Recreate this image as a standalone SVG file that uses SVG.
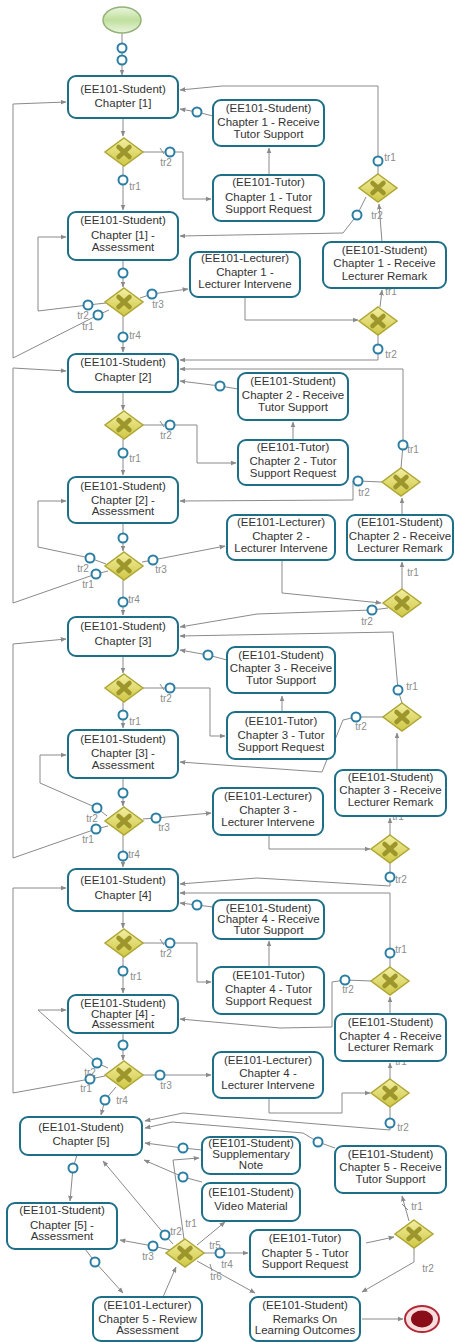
<svg xmlns="http://www.w3.org/2000/svg" width="455" height="1342" viewBox="0 0 455 1342">
<defs>
<marker id="ah" viewBox="0 0 10 10" refX="9" refY="5" markerWidth="6" markerHeight="6" orient="auto" markerUnits="userSpaceOnUse"><path d="M0,1 L10,5 L0,9 z" fill="#8a8a8a"/></marker>
<linearGradient id="gg" x1="0" y1="0" x2="0" y2="1"><stop offset="0" stop-color="#f3efa2"/><stop offset="1" stop-color="#cfc742"/></linearGradient>
<linearGradient id="sg" x1="0" y1="0" x2="0" y2="1"><stop offset="0" stop-color="#eaf5de"/><stop offset="0.5" stop-color="#c0df9c"/><stop offset="1" stop-color="#eaf5de"/></linearGradient>
<g id="gw"><polygon points="0,-14 19,0 0,14 -19,0" fill="url(#gg)" stroke="#aea735" stroke-width="1.5"/><path d="M-5.5,-5 L5.5,5 M5.5,-5 L-5.5,5" stroke="#9c962c" stroke-width="4.5" stroke-linecap="round"/></g>
</defs>
<style>
.box{fill:#fff;stroke:#1d6f88;stroke-width:2}
.t{font-family:"Liberation Sans",Arial,sans-serif;font-size:11.5px;fill:#333;text-anchor:middle}
.e{fill:none;stroke:#8a8a8a;stroke-width:1}
.a{marker-end:url(#ah)}
.m{fill:#fff;stroke:#2a7ea3;stroke-width:2}
.l{font-family:"Liberation Sans",Arial,sans-serif;font-size:10px;fill:#8c8c8c;text-anchor:middle}
</style>
<rect width="455" height="1342" fill="#fff"/>
<g id="connectors">
<path class="e a" d="M122,33 L122,75"/>
<!-- ch1 -->
<path class="e a" d="M123,118 V136"/>
<path class="e a" d="M143,152 H183 V199 H211"/>
<path class="e" d="M160,148 L164,154"/>
<path class="e a" d="M269,175 V148"/>
<path class="e a" d="M213,116 L197,112 L180,109"/>
<path class="e a" d="M123,166 V210"/>
<path class="e a" d="M378,174 V86 H222 L180,90"/>
<path class="e a" d="M366,197 L357,215 L343,233 L180,236"/>
<path class="e a" d="M382,242 L379,204"/>
<path class="e a" d="M123,260 V287"/>
<path class="e a" d="M140,298 L152,294 L188,289"/>
<path class="e a" d="M106,303 L88,305 L38,311 V237 H66"/>
<path class="e a" d="M109,310 L98,315 L13,358 V104 L66,102"/>
<path class="e a" d="M123,316 V352"/>
<path class="e a" d="M245,297 V320 H358"/>
<path class="e a" d="M380,307 L382,290"/>
<path class="e a" d="M378,335 V360 H180"/>
<path class="e a" d="M401,468 L403,445 V369 H180"/>
<!-- ch2 -->
<path class="e a" d="M123,392 V410"/>
<path class="e a" d="M238,389 L220,386 L180,381"/>
<path class="e a" d="M143,425 H197 V463 H236"/>
<path class="e" d="M160,421 L164,427"/>
<path class="e a" d="M293,440 V422"/>
<path class="e a" d="M123,439 V475"/>
<path class="e a" d="M382,482 L358,481 L353,481 V500 L180,501"/>
<path class="e a" d="M402,515 V498"/>
<path class="e a" d="M123,523 V551"/>
<path class="e a" d="M142,562 L153,560 L225,546"/>
<path class="e a" d="M106,564 L90,558 L38,547 V501 H66"/>
<path class="e a" d="M108,571 L96,574 L13,603 V368 L66,371"/>
<path class="e a" d="M123,580 V615"/>
<path class="e a" d="M282,560 V593 L381,603"/>
<path class="e a" d="M402,589 V562"/>
<path class="e a" d="M388,608 L372,610 L257,614 L180,627"/>
<path class="e a" d="M402,703 L398,690 L393,632 L180,636"/>
<!-- ch3 -->
<path class="e a" d="M123,656 V673"/>
<path class="e a" d="M227,660 L208,655 L180,650"/>
<path class="e a" d="M143,688 H210 V736 H225"/>
<path class="e" d="M160,684 L164,690"/>
<path class="e a" d="M282,712 V696"/>
<path class="e a" d="M123,702 V728"/>
<path class="e a" d="M383,717 L356,717 L343,720 L322,772 L180,762"/>
<path class="e a" d="M397,770 V733"/>
<path class="e a" d="M123,778 V806"/>
<path class="e a" d="M143,819 L156,818 L211,813"/>
<path class="e a" d="M107,816 L97,808 L40,783 V755 H66"/>
<path class="e a" d="M108,826 L96,829 L13,858 V644 L66,639"/>
<path class="e a" d="M123,835 V867"/>
<path class="e a" d="M269,835 V849 H370"/>
<path class="e a" d="M390,835 V818"/>
<path class="e a" d="M390,863 V886 L257,878 L180,884"/>
<path class="e a" d="M390,967 V893 H180"/>
<!-- ch4 -->
<path class="e a" d="M123,911 V928"/>
<path class="e a" d="M213,907 L197,905 L180,903"/>
<path class="e a" d="M143,943 H197 V982 H211"/>
<path class="e" d="M160,939 L164,945"/>
<path class="e a" d="M269,967 V941"/>
<path class="e a" d="M123,957 V993"/>
<path class="e a" d="M371,981 L345,980 L332,982 V1027 L280,1028 L180,1019"/>
<path class="e a" d="M390,1014 V997"/>
<path class="e a" d="M123,1033 V1060"/>
<path class="e a" d="M143,1075 H211"/>
<path class="e a" d="M108,1068 L97,1063 L38,1010 H66"/>
<path class="e a" d="M105,1076 L90,1079 L13,1093 V888 H66"/>
<path class="e a" d="M116,1087 L105,1100 L101,1115"/>
<path class="e a" d="M269,1098 V1113 H342 V1093 H370"/>
<path class="e a" d="M390,1079 V1063"/>
<path class="e a" d="M390,1107 V1130 L183,1113 L145,1121"/>
<!-- ch5 -->
<path class="e a" d="M335,1148 L318,1142 L303,1133 L172,1122 L145,1128"/>
<path class="e a" d="M202,1150 L183,1148 L145,1143"/>
<path class="e a" d="M202,1182 L183,1177 L144,1160"/>
<path class="e a" d="M77,1155 L73,1168 L70,1201"/>
<path class="e a" d="M170,1250 L153,1246 L120,1240"/>
<path class="e a" d="M173,1244 L165,1235 L103,1161"/>
<path class="e a" d="M184,1239 L173,1160 L199,1158"/>
<path class="e a" d="M197,1245 L225,1222"/>
<path class="e a" d="M204,1253 H248"/>
<path class="e a" d="M197,1261 L255,1293"/>
<path class="e" d="M210,1264 L212,1271"/>
<path class="e a" d="M163,1297 L176,1267"/>
<path class="e a" d="M85,1249 L95,1262 L123,1293"/>
<path class="e a" d="M366,1243 L394,1237"/>
<path class="e a" d="M409,1221 L402,1196"/>
<path class="e" d="M402,1204 L408,1210"/>
<path class="e a" d="M414,1248 V1262 L362,1292"/>
<path class="e a" d="M362,1319 H403"/>
<!-- flow markers -->
<circle class="m" cx="122" cy="48" r="4.5"/><circle class="m" cx="122" cy="60" r="4.5"/>
<circle class="m" cx="170" cy="152" r="4.5"/><circle class="m" cx="197" cy="112" r="4.5"/>
<circle class="m" cx="123" cy="180" r="4.5"/><circle class="m" cx="378" cy="161" r="4.5"/>
<circle class="m" cx="357" cy="215" r="4.5"/><circle class="m" cx="123" cy="273" r="4.5"/>
<circle class="m" cx="152" cy="294" r="4.5"/><circle class="m" cx="88" cy="305" r="4.5"/>
<circle class="m" cx="98" cy="315" r="4.5"/><circle class="m" cx="123" cy="337" r="4.5"/>
<circle class="m" cx="378" cy="349" r="4.5"/><circle class="m" cx="403" cy="445" r="4.5"/>
<circle class="m" cx="220" cy="386" r="4.5"/><circle class="m" cx="170" cy="425" r="4.5"/>
<circle class="m" cx="123" cy="453" r="4.5"/><circle class="m" cx="358" cy="481" r="4.5"/>
<circle class="m" cx="123" cy="538" r="4.5"/><circle class="m" cx="153" cy="560" r="4.5"/>
<circle class="m" cx="90" cy="558" r="4.5"/><circle class="m" cx="96" cy="574" r="4.5"/>
<circle class="m" cx="123" cy="602" r="4.5"/><circle class="m" cx="372" cy="610" r="4.5"/>
<circle class="m" cx="398" cy="690" r="4.5"/>
<circle class="m" cx="208" cy="655" r="4.5"/><circle class="m" cx="170" cy="688" r="4.5"/>
<circle class="m" cx="123" cy="715" r="4.5"/><circle class="m" cx="356" cy="717" r="4.5"/>
<circle class="m" cx="123" cy="793" r="4.5"/><circle class="m" cx="156" cy="818" r="4.5"/>
<circle class="m" cx="97" cy="808" r="4.5"/><circle class="m" cx="96" cy="829" r="4.5"/>
<circle class="m" cx="123" cy="856" r="4.5"/><circle class="m" cx="390" cy="877" r="4.5"/>
<circle class="m" cx="390" cy="953" r="4.5"/>
<circle class="m" cx="197" cy="905" r="4.5"/><circle class="m" cx="170" cy="943" r="4.5"/>
<circle class="m" cx="123" cy="971" r="4.5"/><circle class="m" cx="345" cy="980" r="4.5"/>
<circle class="m" cx="123" cy="1045" r="4.5"/><circle class="m" cx="160" cy="1075" r="4.5"/>
<circle class="m" cx="97" cy="1063" r="4.5"/><circle class="m" cx="90" cy="1079" r="4.5"/>
<circle class="m" cx="105" cy="1100" r="4.5"/><circle class="m" cx="390" cy="1123" r="4.5"/>
<circle class="m" cx="318" cy="1142" r="4.5"/><circle class="m" cx="183" cy="1148" r="4.5"/>
<circle class="m" cx="183" cy="1177" r="4.5"/><circle class="m" cx="73" cy="1168" r="4.5"/>
<circle class="m" cx="153" cy="1246" r="4.5"/><circle class="m" cx="165" cy="1235" r="4.5"/>
<circle class="m" cx="220" cy="1253" r="4.5"/><circle class="m" cx="95" cy="1262" r="4.5"/>
<!-- labels -->
<text class="l" x="166" y="166">tr2</text><text class="l" x="135" y="190">tr1</text>
<text class="l" x="390" y="161">tr1</text><text class="l" x="377" y="219">tr2</text>
<text class="l" x="158" y="308">tr3</text><text class="l" x="83" y="319">tr2</text>
<text class="l" x="88" y="330">tr1</text><text class="l" x="135" y="339">tr4</text>
<text class="l" x="391" y="295">tr1</text><text class="l" x="391" y="358">tr2</text>
<text class="l" x="166" y="439">tr2</text><text class="l" x="135" y="462">tr1</text>
<text class="l" x="413" y="453">tr1</text><text class="l" x="364" y="496">tr2</text>
<text class="l" x="161" y="573">tr3</text><text class="l" x="83" y="572">tr2</text>
<text class="l" x="88" y="588">tr1</text><text class="l" x="134" y="603">tr4</text>
<text class="l" x="413" y="576">tr1</text><text class="l" x="367" y="625">tr2</text>
<text class="l" x="166" y="702">tr2</text><text class="l" x="135" y="725">tr1</text>
<text class="l" x="412" y="690">tr1</text><text class="l" x="361" y="730">tr2</text>
<text class="l" x="164" y="831">tr3</text><text class="l" x="92" y="822">tr2</text>
<text class="l" x="88" y="843">tr1</text><text class="l" x="134" y="858">tr4</text>
<text class="l" x="398" y="820">tr1</text><text class="l" x="401" y="883">tr2</text>
<text class="l" x="166" y="957">tr2</text><text class="l" x="136" y="980">tr1</text>
<text class="l" x="401" y="953">tr1</text><text class="l" x="348" y="993">tr2</text>
<text class="l" x="166" y="1089">tr3</text><text class="l" x="90" y="1076">tr2</text>
<text class="l" x="86" y="1092">tr1</text><text class="l" x="122" y="1104">tr4</text>
<text class="l" x="401" y="1065">tr1</text><text class="l" x="403" y="1131">tr2</text>
<text class="l" x="191" y="1227">tr1</text><text class="l" x="176" y="1235">tr2</text>
<text class="l" x="148" y="1260">tr3</text><text class="l" x="215" y="1249">tr5</text>
<text class="l" x="227" y="1268">tr4</text><text class="l" x="216" y="1280">tr6</text>
<text class="l" x="417" y="1210">tr1</text><text class="l" x="428" y="1272">tr2</text>
</g>
<g id="start"><ellipse cx="122" cy="20" rx="19" ry="13" fill="url(#sg)" stroke="#93b27a" stroke-width="1.5"/></g>
<g id="end"><ellipse cx="422" cy="1319" rx="17" ry="13" fill="#f7dede" stroke="#b22a3a" stroke-width="2"/><ellipse cx="422" cy="1319" rx="11" ry="8.5" fill="#8a0e1a"/></g>
<g id="gw1"><use href="#gw" x="124" y="152"/></g>
<g id="gw1a"><use href="#gw" x="124" y="302"/></g>
<g id="gw1r"><use href="#gw" x="378" y="188"/></g>
<g id="gw1l"><use href="#gw" x="378" y="321"/></g>
<g id="gw2"><use href="#gw" x="124" y="425"/></g>
<g id="gw2a"><use href="#gw" x="124" y="566"/></g>
<g id="gw2r"><use href="#gw" x="401" y="482"/></g>
<g id="gw2l"><use href="#gw" x="402" y="603"/></g>
<g id="gw3"><use href="#gw" x="124" y="688"/></g>
<g id="gw3a"><use href="#gw" x="124" y="821"/></g>
<g id="gw3r"><use href="#gw" x="402" y="717"/></g>
<g id="gw3l"><use href="#gw" x="390" y="849"/></g>
<g id="gw4"><use href="#gw" x="124" y="943"/></g>
<g id="gw4a"><use href="#gw" x="124" y="1075"/></g>
<g id="gw4r"><use href="#gw" x="390" y="981"/></g>
<g id="gw4l"><use href="#gw" x="390" y="1093"/></g>
<g id="gw5"><use href="#gw" x="185" y="1253"/></g>
<g id="gw5r"><use href="#gw" x="414" y="1234"/></g>
<g id="ch1"><rect class="box" x="68" y="76" width="110" height="42" rx="8"/><text class="t" x="123" y="93">(EE101-Student)</text><text class="t" x="123" y="107">Chapter [1]</text></g>
<g id="ch1_rts"><rect class="box" x="213" y="100" width="111" height="46" rx="8"/><text class="t" x="268.5" y="112">(EE101-Student)</text><text class="t" x="268.5" y="126">Chapter 1 - Receive</text><text class="t" x="268.5" y="138">Tutor Support</text></g>
<g id="ch1_tsr"><rect class="box" x="213" y="175" width="111" height="46" rx="8"/><text class="t" x="268.5" y="186">(EE101-Tutor)</text><text class="t" x="268.5" y="201">Chapter 1 - Tutor</text><text class="t" x="268.5" y="213">Support Request</text></g>
<g id="ch1_ass"><rect class="box" x="68" y="212" width="110" height="48" rx="8"/><text class="t" x="123" y="224">(EE101-Student)</text><text class="t" x="123" y="239">Chapter [1] -</text><text class="t" x="123" y="251">Assessment</text></g>
<g id="ch1_lrr"><rect class="box" x="323" y="242" width="123" height="46" rx="8"/><text class="t" x="384.5" y="254">(EE101-Student)</text><text class="t" x="384.5" y="267">Chapter 1 - Receive</text><text class="t" x="384.5" y="280">Lecturer Remark</text></g>
<g id="ch1_li"><rect class="box" x="190" y="252" width="110" height="45" rx="8"/><text class="t" x="245" y="262">(EE101-Lecturer)</text><text class="t" x="245" y="276">Chapter 1 -</text><text class="t" x="245" y="288">Lecturer Intervene</text></g>
<g id="ch2"><rect class="box" x="68" y="354" width="110" height="38" rx="8"/><text class="t" x="123" y="366">(EE101-Student)</text><text class="t" x="123" y="381">Chapter [2]</text></g>
<g id="ch2_rts"><rect class="box" x="238" y="373" width="110" height="47" rx="8"/><text class="t" x="293" y="385">(EE101-Student)</text><text class="t" x="293" y="399">Chapter 2 - Receive</text><text class="t" x="293" y="411">Tutor Support</text></g>
<g id="ch2_tsr"><rect class="box" x="238" y="440" width="110" height="45" rx="8"/><text class="t" x="293" y="451">(EE101-Tutor)</text><text class="t" x="293" y="465">Chapter 2 - Tutor</text><text class="t" x="293" y="477">Support Request</text></g>
<g id="ch2_ass"><rect class="box" x="68" y="477" width="110" height="46" rx="8"/><text class="t" x="123" y="490">(EE101-Student)</text><text class="t" x="123" y="504">Chapter [2] -</text><text class="t" x="123" y="515">Assessment</text></g>
<g id="ch2_li"><rect class="box" x="227" y="515" width="108" height="45" rx="8"/><text class="t" x="281" y="526">(EE101-Lecturer)</text><text class="t" x="281" y="540">Chapter 2 -</text><text class="t" x="281" y="552">Lecturer Intervene</text></g>
<g id="ch2_lrr"><rect class="box" x="347" y="515" width="106" height="45" rx="8"/><text class="t" x="400" y="526">(EE101-Student)</text><text class="t" x="400" y="540">Chapter 2 - Receive</text><text class="t" x="400" y="552">Lecturer Remark</text></g>
<g id="ch3"><rect class="box" x="68" y="617" width="110" height="39" rx="8"/><text class="t" x="123" y="630">(EE101-Student)</text><text class="t" x="123" y="645">Chapter [3]</text></g>
<g id="ch3_rts"><rect class="box" x="227" y="647" width="108" height="46" rx="8"/><text class="t" x="281" y="659">(EE101-Student)</text><text class="t" x="281" y="672">Chapter 3 - Receive</text><text class="t" x="281" y="684">Tutor Support</text></g>
<g id="ch3_tsr"><rect class="box" x="227" y="712" width="108" height="47" rx="8"/><text class="t" x="281" y="725">(EE101-Tutor)</text><text class="t" x="281" y="739">Chapter 3 - Tutor</text><text class="t" x="281" y="751">Support Request</text></g>
<g id="ch3_ass"><rect class="box" x="68" y="730" width="110" height="48" rx="8"/><text class="t" x="123" y="743">(EE101-Student)</text><text class="t" x="123" y="757">Chapter [3] -</text><text class="t" x="123" y="769">Assessment</text></g>
<g id="ch3_lrr"><rect class="box" x="335" y="770" width="111" height="46" rx="8"/><text class="t" x="390.5" y="781">(EE101-Student)</text><text class="t" x="390.5" y="794">Chapter 3 - Receive</text><text class="t" x="390.5" y="806">Lecturer Remark</text></g>
<g id="ch3_li"><rect class="box" x="213" y="788" width="110" height="47" rx="8"/><text class="t" x="268" y="800">(EE101-Lecturer)</text><text class="t" x="268" y="814">Chapter 3 -</text><text class="t" x="268" y="826">Lecturer Intervene</text></g>
<g id="ch4"><rect class="box" x="68" y="869" width="110" height="42" rx="8"/><text class="t" x="123" y="884">(EE101-Student)</text><text class="t" x="123" y="899">Chapter [4]</text></g>
<g id="ch4_rts"><rect class="box" x="213" y="900" width="111" height="39" rx="8"/><text class="t" x="268.5" y="912">(EE101-Student)</text><text class="t" x="268.5" y="923">Chapter 4 - Receive</text><text class="t" x="268.5" y="934">Tutor Support</text></g>
<g id="ch4_tsr"><rect class="box" x="213" y="967" width="111" height="47" rx="8"/><text class="t" x="268.5" y="979">(EE101-Tutor)</text><text class="t" x="268.5" y="993">Chapter 4 - Tutor</text><text class="t" x="268.5" y="1005">Support Request</text></g>
<g id="ch4_ass"><rect class="box" x="68" y="995" width="110" height="38" rx="8"/><text class="t" x="123" y="1007">(EE101-Student)</text><text class="t" x="123" y="1018">Chapter [4] -</text><text class="t" x="123" y="1028">Assessment</text></g>
<g id="ch4_lrr"><rect class="box" x="335" y="1014" width="111" height="47" rx="8"/><text class="t" x="390.5" y="1026">(EE101-Student)</text><text class="t" x="390.5" y="1040">Chapter 4 - Receive</text><text class="t" x="390.5" y="1051">Lecturer Remark</text></g>
<g id="ch4_li"><rect class="box" x="213" y="1052" width="110" height="46" rx="8"/><text class="t" x="268" y="1064">(EE101-Lecturer)</text><text class="t" x="268" y="1077">Chapter 4 -</text><text class="t" x="268" y="1089">Lecturer Intervene</text></g>
<g id="ch5"><rect class="box" x="20" y="1117" width="122" height="38" rx="8"/><text class="t" x="81" y="1131">(EE101-Student)</text><text class="t" x="81" y="1145">Chapter [5]</text></g>
<g id="suppl"><rect class="box" x="202" y="1137" width="98" height="37" rx="8"/><text class="t" x="251" y="1147">(EE101-Student)</text><text class="t" x="251" y="1158">Supplementary</text><text class="t" x="251" y="1169">Note</text></g>
<g id="video"><rect class="box" x="202" y="1183" width="98" height="38" rx="8"/><text class="t" x="251" y="1196">(EE101-Student)</text><text class="t" x="251" y="1210">Video Material</text></g>
<g id="ch5_rts"><rect class="box" x="335" y="1146" width="111" height="47" rx="8"/><text class="t" x="390.5" y="1158">(EE101-Student)</text><text class="t" x="390.5" y="1171">Chapter 5 - Receive</text><text class="t" x="390.5" y="1183">Tutor Support</text></g>
<g id="ch5_ass"><rect class="box" x="7" y="1203" width="110" height="46" rx="8"/><text class="t" x="62" y="1214">(EE101-Student)</text><text class="t" x="62" y="1229">Chapter [5] -</text><text class="t" x="62" y="1240">Assessment</text></g>
<g id="ch5_tsr"><rect class="box" x="250" y="1230" width="110" height="47" rx="8"/><text class="t" x="305" y="1242">(EE101-Tutor)</text><text class="t" x="305" y="1257">Chapter 5 - Tutor</text><text class="t" x="305" y="1268">Support Request</text></g>
<g id="review"><rect class="box" x="93" y="1297" width="109" height="44" rx="8"/><text class="t" x="147.5" y="1309">(EE101-Lecturer)</text><text class="t" x="147.5" y="1323">Chapter 5 - Review</text><text class="t" x="147.5" y="1334">Assessment</text></g>
<g id="remarks"><rect class="box" x="250" y="1297" width="110" height="44" rx="8"/><text class="t" x="305" y="1309">(EE101-Student)</text><text class="t" x="305" y="1323">Remarks On</text><text class="t" x="305" y="1334">Learning Outcomes</text></g>
</svg>
